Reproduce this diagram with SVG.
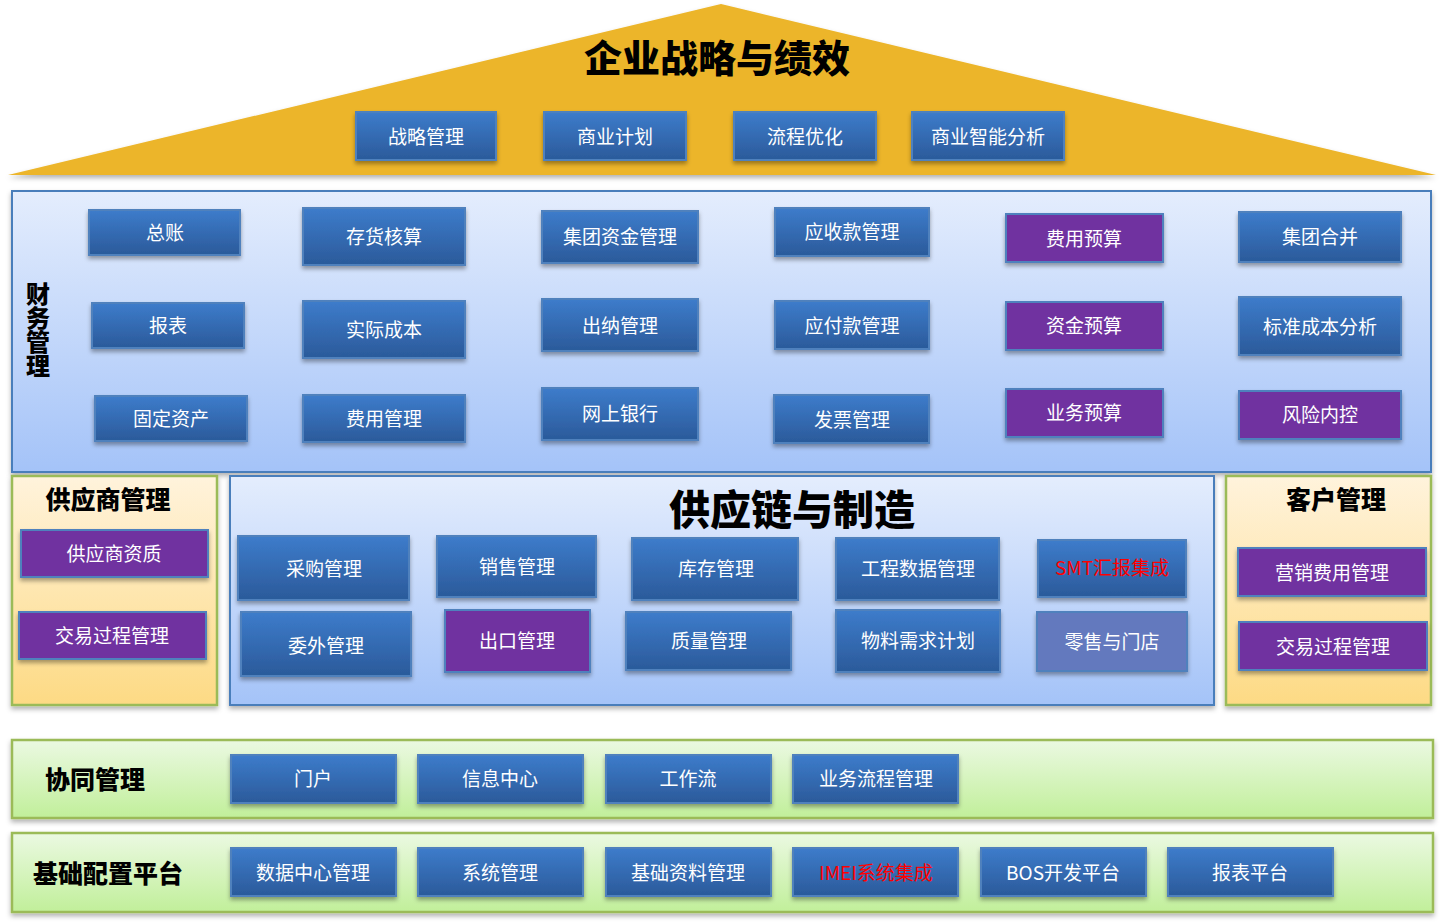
<svg xmlns="http://www.w3.org/2000/svg" width="1444" height="923" viewBox="0 0 1444 923">
<defs>
<linearGradient id="gBox" x1="0" y1="0" x2="0" y2="1"><stop offset="0" stop-color="#3D7CCB"/><stop offset="1" stop-color="#2B5A9A"/></linearGradient>
<linearGradient id="gBlue" x1="0" y1="0" x2="0" y2="1"><stop offset="0" stop-color="#E4EDFD"/><stop offset="1" stop-color="#A4C3F8"/></linearGradient>
<linearGradient id="gYel" x1="0" y1="0" x2="0" y2="1"><stop offset="0" stop-color="#FFF3DC"/><stop offset="1" stop-color="#FDDA84"/></linearGradient>
<linearGradient id="gGrn" x1="0" y1="0" x2="0" y2="1"><stop offset="0" stop-color="#EBF9E2"/><stop offset="1" stop-color="#C1EF9A"/></linearGradient>
<filter id="sh" x="-10%" y="-20%" width="120%" height="150%"><feDropShadow dx="0" dy="3" stdDeviation="2" flood-color="#000" flood-opacity="0.35"/></filter>
<filter id="shp" x="-5%" y="-10%" width="110%" height="130%"><feDropShadow dx="0" dy="3" stdDeviation="2.5" flood-color="#000" flood-opacity="0.3"/></filter>
</defs>
<style>
.b{fill:url(#gBox);stroke:#4F81BD;stroke-width:2;filter:url(#sh)}
.p{fill:#7030A0;stroke:#4F81BD;stroke-width:2;filter:url(#sh)}
.l{fill:#6479BE;stroke:#4F81BD;stroke-width:2;filter:url(#sh)}
.t{font-family:"Noto Sans CJK SC","Microsoft YaHei",sans-serif;font-size:19px;fill:#FFFFFF;text-anchor:middle;dominant-baseline:central}
.r{fill:#FF0000}
.h{font-family:"Noto Sans CJK SC",sans-serif;font-weight:900;fill:#000000;dominant-baseline:central}
.v{font-family:"Noto Sans CJK SC",sans-serif;font-weight:900;fill:#000000;writing-mode:vertical-rl;text-orientation:upright}
.pb{fill:url(#gBlue);stroke:#4A7EBB;stroke-width:2;filter:url(#shp)}
.py{fill:url(#gYel);stroke:#9BBB59;stroke-width:2.5;filter:url(#shp)}
.pg{fill:url(#gGrn);stroke:#9BBB59;stroke-width:2.5;filter:url(#shp)}
</style>

<g id="roof">
<polygon points="721,4 1436,175 8,175" fill="#ECB52A" filter="url(#shp)"/>
<text class="h" x="717" y="55" font-size="38" text-anchor="middle">企业战略与绩效</text>
</g>
<g id="n-zlgl"><rect class="b" x="356" y="112" width="140" height="48"/><text class="t" x="426" y="135">战略管理</text></g>
<g id="n-syjh"><rect class="b" x="544" y="112" width="142" height="48"/><text class="t" x="615" y="135">商业计划</text></g>
<g id="n-lcyh"><rect class="b" x="734" y="112" width="142" height="48"/><text class="t" x="805" y="135">流程优化</text></g>
<g id="n-syznfx"><rect class="b" x="912" y="112" width="152" height="48"/><text class="t" x="988" y="135">商业智能分析</text></g>

<g id="finance">
<rect class="pb" x="12" y="191" width="1419" height="281"/>
<text class="v" x="38" y="282" font-size="24">财务管理</text>
</g>
<g id="n-zz"><rect class="b" x="89" y="210" width="151" height="45"/><text class="t" x="165" y="231">总账</text></g>
<g id="n-bb"><rect class="b" x="92" y="303" width="152" height="45"/><text class="t" x="168" y="324">报表</text></g>
<g id="n-gdzc"><rect class="b" x="95" y="396" width="152" height="45"/><text class="t" x="171" y="417">固定资产</text></g>
<g id="n-chhs"><rect class="b" x="303" y="208" width="162" height="57"/><text class="t" x="384" y="235">存货核算</text></g>
<g id="n-sjcb"><rect class="b" x="303" y="301" width="162" height="57"/><text class="t" x="384" y="328">实际成本</text></g>
<g id="n-fygl"><rect class="b" x="303" y="395" width="162" height="47"/><text class="t" x="384" y="417">费用管理</text></g>
<g id="n-jtzjgl"><rect class="b" x="542" y="211" width="156" height="52"/><text class="t" x="620" y="235">集团资金管理</text></g>
<g id="n-cngl"><rect class="b" x="542" y="299" width="156" height="52"/><text class="t" x="620" y="324">出纳管理</text></g>
<g id="n-wsyh"><rect class="b" x="542" y="388" width="156" height="52"/><text class="t" x="620" y="412">网上银行</text></g>
<g id="n-yskgl"><rect class="b" x="775" y="208" width="154" height="48"/><text class="t" x="852" y="230">应收款管理</text></g>
<g id="n-yfkgl"><rect class="b" x="775" y="301" width="154" height="48"/><text class="t" x="852" y="324">应付款管理</text></g>
<g id="n-fpgl"><rect class="b" x="774" y="395" width="155" height="48"/><text class="t" x="852" y="418">发票管理</text></g>
<g id="n-fyys"><rect class="p" x="1006" y="214" width="157" height="48"/><text class="t" x="1084" y="237">费用预算</text></g>
<g id="n-zjys"><rect class="p" x="1006" y="302" width="157" height="48"/><text class="t" x="1084" y="324">资金预算</text></g>
<g id="n-ywys"><rect class="p" x="1006" y="389" width="157" height="48"/><text class="t" x="1084" y="411">业务预算</text></g>
<g id="n-jthb"><rect class="b" x="1239" y="212" width="162" height="50"/><text class="t" x="1320" y="235">集团合并</text></g>
<g id="n-bzcbfx"><rect class="b" x="1239" y="297" width="162" height="58"/><text class="t" x="1320" y="325">标准成本分析</text></g>
<g id="n-fxnk"><rect class="p" x="1239" y="391" width="162" height="48"/><text class="t" x="1320" y="413">风险内控</text></g>

<g id="supplier">
<rect class="py" x="12" y="476" width="205" height="229"/>
<text class="h" x="108" y="498" font-size="25" text-anchor="middle">供应商管理</text>
</g>
<g id="n-gyszz"><rect class="p" x="21" y="530" width="187" height="47"/><text class="t" x="114" y="552">供应商资质</text></g>
<g id="n-jygcgl1"><rect class="p" x="19" y="612" width="187" height="47"/><text class="t" x="112" y="634">交易过程管理</text></g>

<g id="supplychain">
<rect class="pb" x="230" y="476" width="984" height="229"/>
<text class="h" x="792" y="507" font-size="41" text-anchor="middle">供应链与制造</text>
</g>
<g id="n-cggl"><rect class="b" x="238" y="536" width="171" height="64"/><text class="t" x="324" y="567">采购管理</text></g>
<g id="n-xsgl"><rect class="b" x="437" y="536" width="159" height="61"/><text class="t" x="517" y="565">销售管理</text></g>
<g id="n-kcgl"><rect class="b" x="632" y="538" width="166" height="62"/><text class="t" x="716" y="567">库存管理</text></g>
<g id="n-gcsjgl"><rect class="b" x="836" y="538" width="163" height="62"/><text class="t" x="918" y="567">工程数据管理</text></g>
<g id="n-smt"><rect class="b" x="1038" y="540" width="148" height="57"/><text class="t r" x="1112" y="566">SMT汇报集成</text></g>
<g id="n-wwgl"><rect class="b" x="241" y="612" width="170" height="64"/><text class="t" x="326" y="644">委外管理</text></g>
<g id="n-ckgl"><rect class="p" x="445" y="610" width="145" height="62"/><text class="t" x="517" y="639">出口管理</text></g>
<g id="n-zlgl2"><rect class="b" x="626" y="612" width="165" height="58"/><text class="t" x="709" y="639">质量管理</text></g>
<g id="n-wlxqjh"><rect class="b" x="836" y="610" width="164" height="62"/><text class="t" x="918" y="639">物料需求计划</text></g>
<g id="n-lsymd"><rect class="l" x="1037" y="612" width="150" height="59"/><text class="t" x="1112" y="640">零售与门店</text></g>

<g id="customer">
<rect class="py" x="1226" y="476" width="205" height="229"/>
<text class="h" x="1336" y="498" font-size="25" text-anchor="middle">客户管理</text>
</g>
<g id="n-yxfygl"><rect class="p" x="1238" y="548" width="188" height="48"/><text class="t" x="1332" y="571">营销费用管理</text></g>
<g id="n-jygcgl2"><rect class="p" x="1239" y="622" width="188" height="48"/><text class="t" x="1333" y="645">交易过程管理</text></g>

<g id="collab">
<rect class="pg" x="12" y="740" width="1421" height="78"/>
<text class="h" x="45" y="778" font-size="25">协同管理</text>
</g>
<g id="n-mh"><rect class="b" x="231" y="755" width="165" height="48"/><text class="t" x="313" y="777">门户</text></g>
<g id="n-xxzx"><rect class="b" x="418" y="755" width="165" height="48"/><text class="t" x="500" y="777">信息中心</text></g>
<g id="n-gzl"><rect class="b" x="606" y="755" width="165" height="48"/><text class="t" x="688" y="777">工作流</text></g>
<g id="n-ywlcgl"><rect class="b" x="793" y="755" width="165" height="48"/><text class="t" x="876" y="777">业务流程管理</text></g>

<g id="platform">
<rect class="pg" x="12" y="833" width="1421" height="79"/>
<text class="h" x="33" y="872" font-size="25">基础配置平台</text>
</g>
<g id="n-sjzxgl"><rect class="b" x="231" y="848" width="165" height="48"/><text class="t" x="313" y="871">数据中心管理</text></g>
<g id="n-xtgl"><rect class="b" x="418" y="848" width="165" height="48"/><text class="t" x="500" y="871">系统管理</text></g>
<g id="n-jczlgl"><rect class="b" x="606" y="848" width="165" height="48"/><text class="t" x="688" y="871">基础资料管理</text></g>
<g id="n-imei"><rect class="b" x="793" y="848" width="165" height="48"/><text class="t r" x="876" y="871">IMEI系统集成</text></g>
<g id="n-bos"><rect class="b" x="981" y="848" width="165" height="48"/><text class="t" x="1063" y="871">BOS开发平台</text></g>
<g id="n-bbpt"><rect class="b" x="1168" y="848" width="165" height="48"/><text class="t" x="1250" y="871">报表平台</text></g>

<g id="connectors"></g>
</svg>
